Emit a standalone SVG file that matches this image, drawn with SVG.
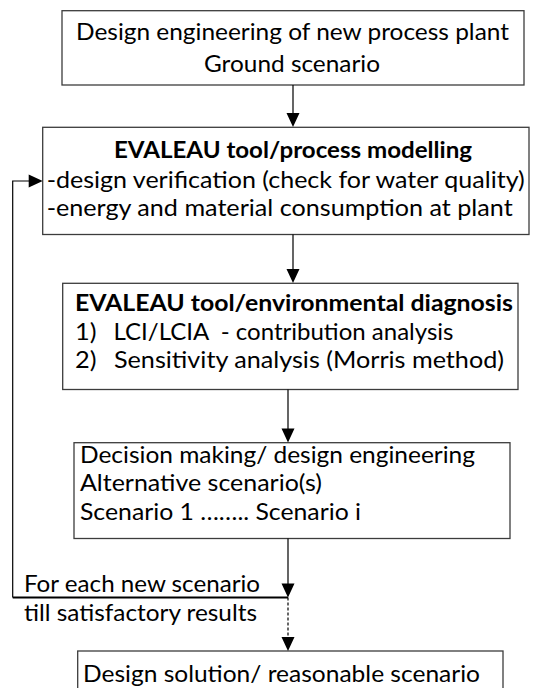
<svg xmlns="http://www.w3.org/2000/svg" width="533" height="688" viewBox="0 0 533 688">
<defs>
<style>
.box{fill:#fff;stroke:#3c3c3c;stroke-width:1.3}
.t{font-family:Lato,"Liberation Sans",sans-serif;font-size:22.5px;fill:#000}
.b{font-weight:bold}
.c{fill:none;stroke:#000;stroke-width:1.2}
</style>
</defs>
<rect width="533" height="688" fill="#fff"/>
<g id="n1">
<rect class="box" x="62" y="10.7" width="462" height="74.3"/>
<text class="t" x="76" y="40" textLength="433" lengthAdjust="spacingAndGlyphs">Design engineering of new process plant</text>
<text class="t" x="204" y="72" textLength="176" lengthAdjust="spacingAndGlyphs">Ground scenario</text>
</g>
<g id="n2">
<rect class="box" x="42.7" y="127.3" width="486.3" height="107.2"/>
<text class="t b" x="114" y="157.5" textLength="358" lengthAdjust="spacingAndGlyphs">EVALEAU tool/process modelling</text>
<text class="t" x="46.7" y="187.5" textLength="478" lengthAdjust="spacingAndGlyphs">-design verification (check for water quality)</text>
<text class="t" x="46.7" y="215.5" textLength="466" lengthAdjust="spacingAndGlyphs">-energy and material consumption at plant</text>
</g>
<g id="n3">
<rect class="box" x="62.7" y="283.3" width="455.3" height="106.2"/>
<text class="t b" x="75" y="310.5" textLength="438" lengthAdjust="spacingAndGlyphs">EVALEAU tool/environmental diagnosis</text>
<text class="t" x="75" y="339.5" textLength="21.5" lengthAdjust="spacingAndGlyphs">1)</text>
<text class="t" x="113.5" y="339.5" textLength="340" lengthAdjust="spacingAndGlyphs" xml:space="preserve">LCI/LCIA  - contribution analysis</text>
<text class="t" x="75" y="368" textLength="21.5" lengthAdjust="spacingAndGlyphs">2)</text>
<text class="t" x="114" y="368" textLength="390" lengthAdjust="spacingAndGlyphs">Sensitivity analysis (Morris method)</text>
</g>
<g id="n4">
<rect class="box" x="74" y="442.7" width="436" height="95.8"/>
<text class="t" x="80" y="462.5" textLength="395" lengthAdjust="spacingAndGlyphs">Decision making/ design engineering</text>
<text class="t" x="80" y="491" textLength="242" lengthAdjust="spacingAndGlyphs">Alternative scenario(s)</text>
<text class="t" x="80" y="519.5" textLength="281" lengthAdjust="spacingAndGlyphs">Scenario 1 …….. Scenario i</text>
</g>
<g id="loop-label">
<text class="t" x="24" y="591.7" textLength="236" lengthAdjust="spacingAndGlyphs">For each new scenario</text>
<text class="t" x="24" y="620.5" textLength="233" lengthAdjust="spacingAndGlyphs">till satisfactory results</text>
</g>
<g id="n5">
<rect class="box" x="77.7" y="651" width="425.3" height="60"/>
<text class="t" x="83" y="681.5" textLength="397" lengthAdjust="spacingAndGlyphs">Design solution/ reasonable scenario</text>
</g>
<g id="connectors">
<path d="M293,85 V114 M293,234.5 V270 M288,389.5 V430 M288,538.5 V585 M12.7,597.5 V181 H30" fill="none" stroke="#000" stroke-width="1.2"/>
<path d="M288,597.5 V639" fill="none" stroke="#000" stroke-width="1.2" stroke-dasharray="3,2"/>
<path d="M12.7,597.5 H288" fill="none" stroke="#000" stroke-width="1.8"/>
<path d="M286.5,113 L299.5,113 L293,127 Z M286.5,269 L299.5,269 L293,283 Z M281.5,428.5 L294.5,428.5 L288,442.5 Z M281.5,583.5 L294.5,583.5 L288,597.5 Z M281.5,637 L294.5,637 L288,651 Z M28.7,174.5 L28.7,187.5 L42.7,181 Z" fill="#000" stroke="none"/>
</g>
</svg>
